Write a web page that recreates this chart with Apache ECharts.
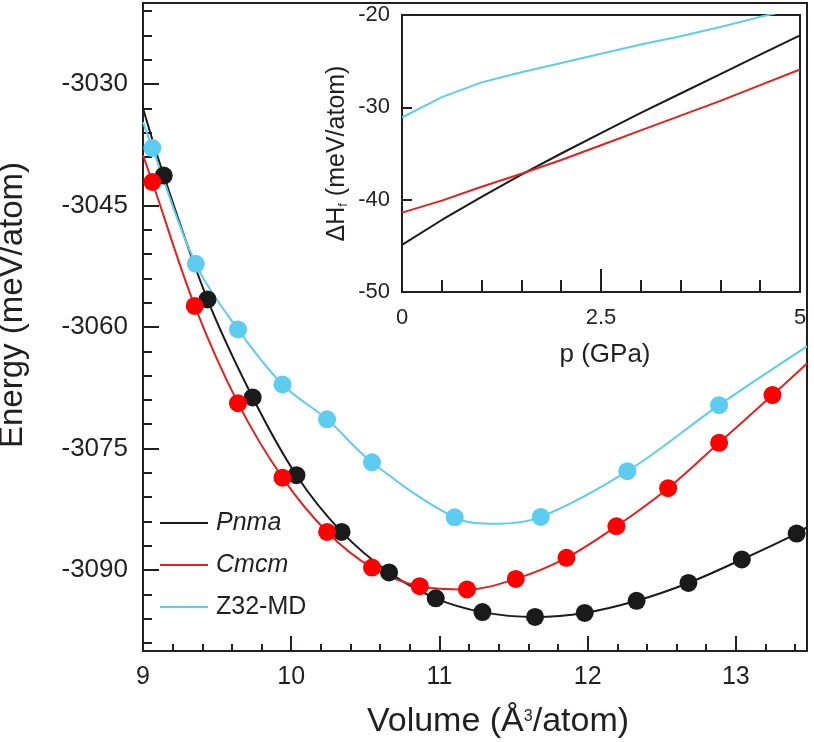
<!DOCTYPE html>
<html><head><meta charset="utf-8">
<script src="https://cdn.jsdelivr.net/npm/echarts@6/dist/echarts.min.js"></script>
<style>html,body{margin:0;padding:0;background:#fff}#c{width:814px;height:742px}</style>
</head><body><div id="c"></div>
<script>
// ---- main panel: E(V) points ----
const pnmaVol = [9.14, 9.435, 9.74, 10.035, 10.34, 10.66, 10.975, 11.29, 11.645, 11.98, 12.33, 12.68, 13.04, 13.41];
const pnmaE   = [-3041.3, -3056.6, -3068.7, -3078.3, -3085.3, -3090.3, -3093.5, -3095.2, -3095.8, -3095.3, -3093.8, -3091.6, -3088.7, -3085.5];
const cmcmVol = [9.063, 9.349, 9.641, 9.941, 10.242, 10.545, 10.867, 11.186, 11.515, 11.857, 12.194, 12.543, 12.887, 13.247];
const cmcmE   = [-3042.1, -3057.4, -3069.4, -3078.6, -3085.3, -3089.7, -3092.0, -3092.4, -3091.1, -3088.5, -3084.6, -3079.9, -3074.3, -3068.4];
const z32Vol  = [9.063, 9.356, 9.641, 9.941, 10.242, 10.545, 11.103, 11.684, 12.268, 12.887];
const z32E    = [-3037.9, -3052.2, -3060.3, -3067.1, -3071.4, -3076.7, -3083.5, -3083.45, -3077.8, -3069.65];
// fitted curves
const pnmaCurveVol = [9.0, 9.14, 9.435, 9.74, 10.035, 10.34, 10.66, 10.975, 11.29, 11.645, 11.98, 12.33, 12.68, 13.04, 13.41, 13.48];
const pnmaCurveE   = [-3033.0, -3041.3, -3056.6, -3068.7, -3078.3, -3085.3, -3090.3, -3093.5, -3095.2, -3095.8, -3095.3, -3093.8, -3091.6, -3088.7, -3085.5, -3084.7];
const cmcmCurveVol = [9.0, 9.063, 9.349, 9.641, 9.941, 10.242, 10.545, 10.867, 11.186, 11.515, 11.857, 12.194, 12.543, 12.887, 13.247, 13.48];
const cmcmCurveE   = [-3038.8, -3042.1, -3057.4, -3069.4, -3078.6, -3085.3, -3089.7, -3092.0, -3092.4, -3091.1, -3088.5, -3084.6, -3079.9, -3074.3, -3068.4, -3064.5];
const z32CurveVol  = [9.0, 9.063, 9.356, 9.641, 9.941, 10.242, 10.545, 11.103, 11.39, 11.684, 12.268, 12.887, 13.48];
const z32CurveE    = [-3034.7, -3037.9, -3052.2, -3060.3, -3067.1, -3071.4, -3076.7, -3083.5, -3084.3, -3083.45, -3077.8, -3069.65, -3062.4];
// axis ticks (main)
const volLabels = [9, 10, 11, 12, 13];
const volMajorTicks = [10, 11, 12, 13];
const volMinorTicks = [9.2, 9.4, 9.6, 9.8, 10.2, 10.4, 10.6, 10.8, 11.2, 11.4, 11.6, 11.8, 12.2, 12.4, 12.6, 12.8, 13.2, 13.4];
const eLabels = [-3090, -3075, -3060, -3045, -3030];
const eMinorTicks = [-3099, -3096, -3093, -3087, -3084, -3081, -3078, -3072, -3069, -3066, -3063, -3057, -3054, -3051, -3048, -3042, -3039, -3036, -3033, -3027, -3024, -3021];
// ---- inset: dH(p) ----
const pressure = [0, 0.5, 1, 1.5, 2, 2.5, 3, 3.5, 4, 4.5, 5];
const pnmaDH = [-44.9, -42.2, -39.7, -37.3, -35.0, -32.8, -30.6, -28.5, -26.4, -24.3, -22.2];
const cmcmDH = [-41.4, -40.1, -38.6, -37.2, -35.7, -34.1, -32.5, -30.9, -29.3, -27.6, -25.9];
const z32DH  = [-31.1, -28.9, -27.3, -26.2, -25.2, -24.2, -23.2, -22.3, -21.3, -20.2, -19.2];
const pLabels = [0, 2.5, 5];
const pMinorTicks = [0.5, 1, 1.5, 2, 3, 3.5, 4, 4.5];
const pMajorTicks = [2.5];
const dhLabels = [-50, -40, -30, -20];
const dhTicks = [-40, -30];

const FONT = 'Liberation Sans, Arial, sans-serif';
const AX = '#231f20';
const BLACK = '#1a1a1a', RED = '#ff0000', REDL = '#e3211f', CYAN = '#5ccdf0';
const zip = (a, b) => a.map((v, i) => [v, b[i]]);
const plain = v => String(v);

const chart = echarts.init(document.getElementById('c'), null, {renderer: 'canvas'});
const hidden = {show: false};
chart.setOption({
  animation: false,
  backgroundColor: '#fff',
  grid: [
    {left: 143, right: 7, top: 3, bottom: 91, show: true, borderColor: AX, borderWidth: 2, backgroundColor: 'transparent', z: 0, containLabel: false, outerBoundsMode: 'none'},
    {left: 402, right: 14, top: 15, bottom: 450, show: true, borderColor: AX, borderWidth: 2, backgroundColor: '#fff', z: 0, containLabel: false, outerBoundsMode: 'none'}
  ],
  xAxis: [
    {type: 'value', gridIndex: 0, min: 9, max: 13.48, position: 'bottom',
     axisLine: {show: true, lineStyle: {color: AX, width: 2}},
     axisTick: {show: true, inside: true, length: 15, customValues: volMajorTicks, lineStyle: {color: AX, width: 2}},
     axisLabel: {customValues: volLabels, formatter: plain, alignMinLabel: 'center', alignMaxLabel: 'center', fontSize: 25, color: '#231f20', fontFamily: FONT, margin: 14},
     splitLine: hidden,
     name: 'Volume (Å{sup|3}/atom)', nameLocation: 'middle', nameGap: 54,
     nameTextStyle: {fontSize: 34, color: '#231f20', fontFamily: FONT, padding: [0, 0, 0, 46],
       rich: {sup: {fontSize: 16, verticalAlign: 'top', color: '#231f20', fontFamily: FONT, padding: [4, 0, 0, 0]}}}},
    {type: 'value', gridIndex: 0, min: 9, max: 13.48, position: 'bottom',
     axisLine: hidden, axisLabel: hidden, splitLine: hidden,
     axisTick: {show: true, inside: true, length: 7, customValues: volMinorTicks, lineStyle: {color: AX, width: 2}}},
    {type: 'value', gridIndex: 1, min: 0, max: 5, position: 'bottom',
     axisLine: {show: true, lineStyle: {color: AX, width: 2}},
     axisTick: {show: true, inside: true, length: 12, customValues: pMinorTicks, lineStyle: {color: AX, width: 2}},
     axisLabel: {customValues: pLabels, formatter: plain, alignMinLabel: 'center', alignMaxLabel: 'center', fontSize: 22, color: '#231f20', fontFamily: FONT, margin: 15},
     splitLine: hidden,
     name: 'p (GPa)', nameLocation: 'middle', nameGap: 50,
     nameTextStyle: {fontSize: 26, color: '#231f20', fontFamily: FONT, padding: [0, 0, 0, 8]}},
    {type: 'value', gridIndex: 1, min: 0, max: 5, position: 'bottom',
     axisLine: hidden, axisLabel: hidden, splitLine: hidden,
     axisTick: {show: true, inside: true, length: 23, customValues: pMajorTicks, lineStyle: {color: AX, width: 2}}}
  ],
  yAxis: [
    {type: 'value', gridIndex: 0, min: -3100, max: -3020, position: 'left',
     axisLine: {show: true, lineStyle: {color: AX, width: 2}},
     axisTick: {show: true, inside: true, length: 16, customValues: eLabels, lineStyle: {color: AX, width: 2}},
     axisLabel: {customValues: eLabels, formatter: plain, fontSize: 26, color: '#231f20', fontFamily: FONT, margin: 15},
     splitLine: hidden,
     name: 'Energy (meV/atom)', nameLocation: 'middle', nameGap: 114,
     nameTextStyle: {fontSize: 33, color: '#231f20', fontFamily: FONT, padding: [0, 0, 0, 44]}},
    {type: 'value', gridIndex: 0, min: -3100, max: -3020, position: 'left',
     axisLine: hidden, axisLabel: hidden, splitLine: hidden,
     axisTick: {show: true, inside: true, length: 9, customValues: eMinorTicks, lineStyle: {color: AX, width: 2}}},
    {type: 'value', gridIndex: 1, min: -50, max: -20, position: 'left',
     axisLine: {show: true, lineStyle: {color: AX, width: 2}},
     axisTick: {show: true, inside: true, length: 10, customValues: dhTicks, lineStyle: {color: AX, width: 2}},
     axisLabel: {customValues: dhLabels, formatter: plain, fontSize: 22, color: '#231f20', fontFamily: FONT, margin: 12},
     splitLine: hidden,
     name: 'ΔH{sub|f} (meV/atom)', nameLocation: 'middle', nameGap: 52,
     nameTextStyle: {fontSize: 25, color: '#231f20', fontFamily: FONT,
       rich: {sub: {fontSize: 13, verticalAlign: 'bottom', color: '#231f20', fontFamily: FONT}}}}
  ],
  legend: {
    left: 155, top: 504, orient: 'vertical', icon: 'rect', itemWidth: 48, itemHeight: 2, itemGap: 14,
    textStyle: {fontSize: 25, lineHeight: 28, color: '#231f20', fontFamily: FONT, padding: [0, 0, 0, 3]},
    data: [
      {name: 'Pnma', textStyle: {fontStyle: 'italic'}},
      {name: 'Cmcm', textStyle: {fontStyle: 'italic'}},
      {name: 'Z32-MD'}
    ]
  },
  series: [
    {name: 'Pnma', type: 'line', xAxisIndex: 0, yAxisIndex: 0, data: zip(pnmaCurveVol, pnmaCurveE), smooth: 0.35, symbol: 'none', lineStyle: {color: BLACK, width: 2}, itemStyle: {color: BLACK}, z: 2},
    {name: 'Cmcm', type: 'line', xAxisIndex: 0, yAxisIndex: 0, data: zip(cmcmCurveVol, cmcmCurveE), smooth: 0.35, symbol: 'none', lineStyle: {color: REDL, width: 2}, itemStyle: {color: REDL}, z: 2},
    {name: 'Z32-MD', type: 'line', xAxisIndex: 0, yAxisIndex: 0, data: zip(z32CurveVol, z32CurveE), smooth: 0.35, symbol: 'none', lineStyle: {color: CYAN, width: 2}, itemStyle: {color: CYAN}, z: 2},
    {name: 'Pnma pts', type: 'scatter', xAxisIndex: 0, yAxisIndex: 0, data: zip(pnmaVol, pnmaE), symbolSize: 18, itemStyle: {color: BLACK, opacity: 1}, z: 3},
    {name: 'Cmcm pts', type: 'scatter', xAxisIndex: 0, yAxisIndex: 0, data: zip(cmcmVol, cmcmE), symbolSize: 18, itemStyle: {color: RED, opacity: 1}, z: 4},
    {name: 'Z32 pts', type: 'scatter', xAxisIndex: 0, yAxisIndex: 0, data: zip(z32Vol, z32E), symbolSize: 18, itemStyle: {color: CYAN, opacity: 1}, z: 5},
    {name: 'Pnma dH', type: 'line', xAxisIndex: 2, yAxisIndex: 2, data: zip(pressure, pnmaDH), symbol: 'none', lineStyle: {color: BLACK, width: 2}, z: 6},
    {name: 'Cmcm dH', type: 'line', xAxisIndex: 2, yAxisIndex: 2, data: zip(pressure, cmcmDH), symbol: 'none', lineStyle: {color: REDL, width: 2}, z: 6},
    {name: 'Z32 dH', type: 'line', xAxisIndex: 2, yAxisIndex: 2, data: zip(pressure, z32DH), symbol: 'none', clip: true, lineStyle: {color: CYAN, width: 2}, z: 6}
  ]
});
</script>
</body></html>
